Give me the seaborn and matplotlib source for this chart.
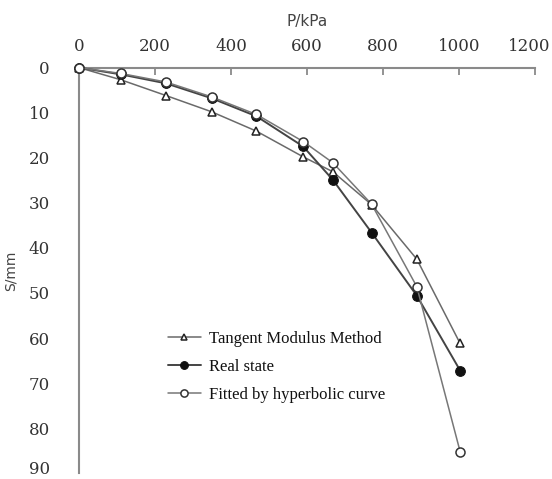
import matplotlib
matplotlib.use("Agg")
import matplotlib.pyplot as plt
import matplotlib.transforms as mtransforms
import seaborn as sns
import pandas as pd

# Data
load_kpa = [0, 110, 229, 349, 467, 590, 668, 770, 889, 1003]
tangent = [0, 2.7, 6.2, 9.8, 14.1, 19.8, 23.1, 30.4, 42.5, 61.2]
real_state = [0, 1.5, 3.5, 6.8, 10.8, 17.5, 24.9, 36.6, 50.6, 67.2]
fitted = [0, 1.3, 3.2, 6.5, 10.4, 16.4, 21.1, 30.3, 48.6, 85.2]
series_names = ["Tangent Modulus Method", "Real state", "Fitted by hyperbolic curve"]
x_ticks = [0, 200, 400, 600, 800, 1000, 1200]
y_ticks = [0, 10, 20, 30, 40, 50, 60, 70, 80, 90]

sns.set_style("white")
plt.rcParams["font.family"] = ["DejaVu Serif"]

fig = plt.figure(figsize=(5.52, 4.79), dpi=100)
ax = fig.add_axes([79/552, 1-473.3/479, (535-79)/552, (473.3-67.6)/479])

styles = [
    dict(marker="^", markersize=6, markerfacecolor="white", markeredgecolor="#222222", markeredgewidth=1.1,
         color="#6a6a6a", linewidth=1.1),
    dict(marker="o", markersize=7, markerfacecolor="#111111", markeredgecolor="#111111",
         color="#444444", linewidth=1.4),
    dict(marker="o", markersize=6.5, markerfacecolor="white", markeredgecolor="#333333", markeredgewidth=1.1,
         color="#777777", linewidth=1.1),
]
for name, vals, st in zip(series_names, [tangent, real_state, fitted], styles):
    df = pd.DataFrame({"P": load_kpa, "S": vals})
    sns.lineplot(data=df, x="P", y="S", ax=ax, sort=False, estimator=None, label=name,
                 clip_on=False, zorder=3, **st)

ax.set_xlim(0, 1200)
ax.set_ylim(90, 0)
ax.set_xticks(x_ticks)
ax.set_yticks(y_ticks)
ax.xaxis.tick_top()
ax.xaxis.set_label_position("top")

for side in ["right", "bottom"]:
    ax.spines[side].set_visible(False)
for side in ["top", "left"]:
    ax.spines[side].set_color("#8a8a8a")
    ax.spines[side].set_linewidth(1.5)

ax.tick_params(axis="x", direction="in", length=5, width=1.3, color="#8a8a8a",
               labelsize=12, pad=9, labelcolor="#333333", top=True, bottom=False)
ax.tick_params(axis="y", direction="in", length=5, width=1.3, color="#8a8a8a",
               labelsize=12, pad=21, labelcolor="#333333")

# nudge edge tick labels so they stay inside the figure
last = ax.get_xticklabels()[-1]
last.set_transform(last.get_transform() + mtransforms.ScaledTranslation(-6/100, 0, fig.dpi_scale_trans))
bottom = ax.get_yticklabels()[-1]
bottom.set_transform(bottom.get_transform() + mtransforms.ScaledTranslation(0, 6/100, fig.dpi_scale_trans))

ax.set_xlabel("P/kPa", fontsize=11, family=["DejaVu Sans"], color="#444444", labelpad=9)
ax.set_ylabel("S/mm", fontsize=10, family=["DejaVu Sans"], color="#444444", labelpad=8)

leg = ax.legend(loc="upper left", bbox_to_anchor=(0.18, 0.368), frameon=False,
                prop={"family": "Liberation Serif", "size": 12}, handlelength=2.0,
                handletextpad=0.5, labelspacing=0.72, borderaxespad=0, markerscale=0.8)
for t in leg.get_texts():
    t.set_color("#111111")

fig.savefig("out.png", dpi=100, facecolor="white")
